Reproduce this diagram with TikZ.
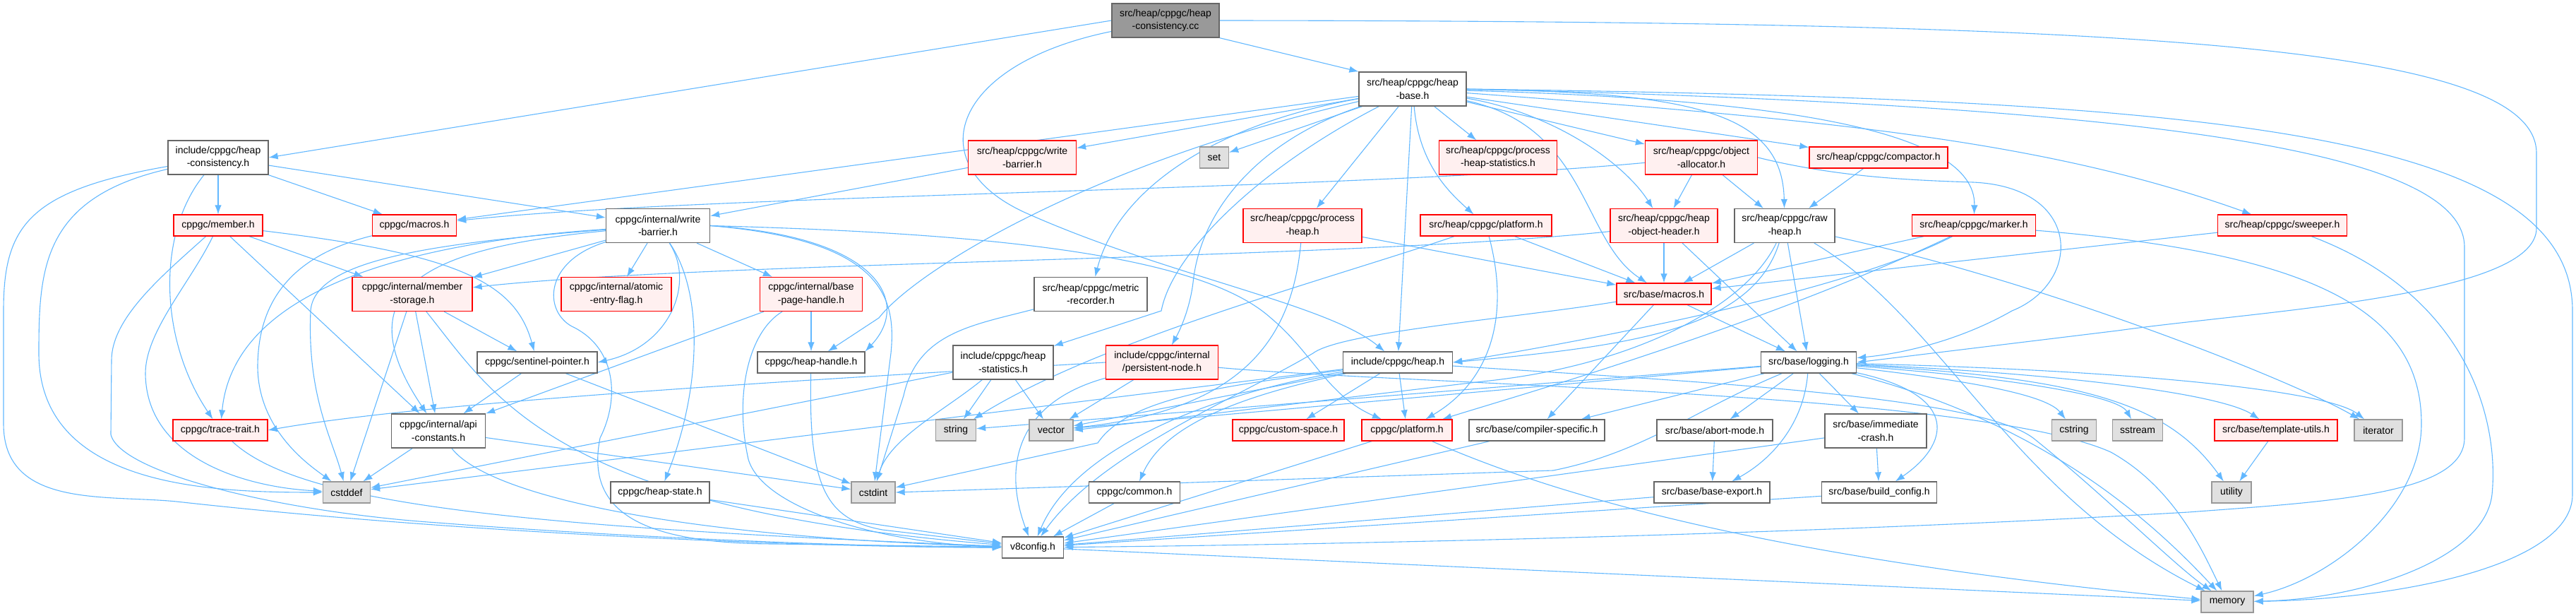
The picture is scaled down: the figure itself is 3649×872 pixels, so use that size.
\documentclass[tikz,border=0pt]{standalone}
\usepackage{fontspec}
\setmainfont{Liberation Sans}
\usetikzlibrary{arrows.meta,backgrounds}

\definecolor{incblue}{HTML}{63B8FF}
\definecolor{boxgray}{HTML}{666666}
\definecolor{sysgray}{HTML}{999999}
\definecolor{sysfill}{HTML}{E0E0E0}
\definecolor{truncfill}{HTML}{FFF0F0}
\definecolor{maingray}{HTML}{999999}

\tikzset{
  file/.style={draw=boxgray,fill=white,line width=1.3pt,align=center,
    font=\fontsize{14}{18.7}\selectfont,minimum height=30pt,inner sep=1pt},
  two/.style={minimum height=48pt},
  trunc/.style={file,draw=red,fill=truncfill},
  sys/.style={file,draw=sysgray,fill=sysfill},
  main/.style={file,fill=maingray},
  inc/.style={draw=incblue,line width=1.1pt,-{Latex[length=13pt,width=9.5pt]}}
}

\begin{document}
\begin{tikzpicture}[x=1pt,y=-1pt]
  \useasboundingbox (0,0) rectangle (3649,872);

  \node[main,two,minimum width=152pt] (root) at (1651,29) {src/heap/cppgc/heap\\-consistency.cc};
  \node[file,two,minimum width=152pt] (hbase) at (2001,126) {src/heap/cppgc/heap\\-base.h};

  \node[file,two,minimum width=142pt] (hcons) at (309,223) {include/cppgc/heap\\-consistency.h};
  \node[trunc,two,minimum width=153pt] (swb) at (1448,223) {src/heap/cppgc/write\\-barrier.h};
  \node[sys,minimum width=41pt] (set) at (1720,223) {set};
  \node[trunc,two,minimum width=167pt] (phs) at (2122,223) {src/heap/cppgc/process\\-heap-statistics.h};
  \node[trunc,two,minimum width=159pt] (oalloc) at (2410,223) {src/heap/cppgc/object\\-allocator.h};
  \node[trunc,minimum width=196pt] (compactor) at (2661,223) {src/heap/cppgc/compactor.h};

  \node[trunc,minimum width=126pt] (member) at (309,319) {cppgc/member.h};
  \node[trunc,minimum width=119pt] (cmacros) at (587,319) {cppgc/macros.h};
  \node[file,two,minimum width=147pt] (iwb) at (932,319.5) {cppgc/internal/write\\-barrier.h};
  \node[trunc,two,minimum width=168pt] (pheap) at (1845,319.5) {src/heap/cppgc/process\\-heap.h};
  \node[trunc,minimum width=186pt] (splatform) at (2105,319) {src/heap/cppgc/platform.h};
  \node[trunc,two,minimum width=152pt] (hoh) at (2357,319.5) {src/heap/cppgc/heap\\-object-header.h};
  \node[file,two,minimum width=142pt] (rawheap) at (2528,319.5) {src/heap/cppgc/raw\\-heap.h};
  \node[trunc,minimum width=175pt] (marker) at (2796,319) {src/heap/cppgc/marker.h};
  \node[trunc,minimum width=183pt] (sweeper) at (3233,319) {src/heap/cppgc/sweeper.h};

  \node[trunc,two,minimum width=170pt] (mstorage) at (584,416.5) {cppgc/internal/member\\-storage.h};
  \node[trunc,two,minimum width=156pt] (atomic) at (873,416.5) {cppgc/internal/atomic\\-entry-flag.h};
  \node[trunc,two,minimum width=145pt] (bph) at (1149,416.5) {cppgc/internal/base\\-page-handle.h};
  \node[file,two,minimum width=160pt] (metric) at (1545,416.5) {src/heap/cppgc/metric\\-recorder.h};
  \node[trunc,minimum width=134pt] (bmacros) at (2357,416) {src/base/macros.h};

  \node[file,minimum width=170pt] (sentinel) at (761,513) {cppgc/sentinel-pointer.h};
  \node[file,minimum width=152pt] (hhandle) at (1149,513) {cppgc/heap-handle.h};
  \node[file,two,minimum width=142pt] (hstats) at (1421,513) {include/cppgc/heap\\-statistics.h};
  \node[trunc,two,minimum width=159pt] (pnode) at (1646,513) {include/cppgc/internal\\/persistent-node.h};
  \node[file,minimum width=155pt] (heaph) at (1980,513) {include/cppgc/heap.h};
  \node[file,minimum width=135pt] (logging) at (2562,513) {src/base/logging.h};

  \node[trunc,minimum width=134pt] (trace) at (312,609) {cppgc/trace-trait.h};
  \node[file,two,minimum width=133pt] (apiconst) at (621,610) {cppgc/internal/api\\-constants.h};
  \node[sys,minimum width=57pt] (string) at (1354,609) {string};
  \node[sys,minimum width=62pt] (vector) at (1489,609) {vector};
  \node[trunc,minimum width=158pt] (cspace) at (1825,609) {cppgc/custom-space.h};
  \node[trunc,minimum width=128pt] (cplatform) at (1993,609) {cppgc/platform.h};
  \node[file,minimum width=192pt] (compspec) at (2177,609) {src/base/compiler-specific.h};
  \node[file,minimum width=164pt] (abort) at (2429,609) {src/base/abort-mode.h};
  \node[file,two,minimum width=144pt] (icrash) at (2657,610) {src/base/immediate\\-crash.h};
  \node[sys,minimum width=63pt] (cstring) at (2938,609) {cstring};
  \node[sys,minimum width=71pt] (sstream) at (3028,609) {sstream};
  \node[trunc,minimum width=174pt] (tutils) at (3224,609) {src/base/template-utils.h};
  \node[sys,minimum width=68pt] (iterator) at (3369,609) {iterator};

  \node[sys,minimum width=67pt] (cstddef) at (491,697) {cstddef};
  \node[file,minimum width=140pt] (hstate) at (935,697) {cppgc/heap-state.h};
  \node[sys,minimum width=62pt] (cstdint) at (1237,697) {cstdint};
  \node[file,minimum width=129pt] (common) at (1607,697) {cppgc/common.h};
  \node[file,minimum width=164pt] (bexport) at (2425,697) {src/base/base-export.h};
  \node[file,minimum width=163pt] (bconfig) at (2662,697) {src/base/build\_config.h};
  \node[sys,minimum width=56pt] (utility) at (3161,697) {utility};

  \node[file,minimum width=87pt] (v8config) at (1463,775) {v8config.h};
  \node[sys,minimum width=74pt] (memory) at (3155,852) {memory};

  \begin{scope}[on background layer]
  \draw[inc] (root.west) -- (hcons.east);
  \draw[inc] (root.south east) -- (hbase.north west);
  \draw[inc] (root) .. controls (1350,90) and (1300,230) .. (1450,300) .. controls (1650,390) and (1880,430) .. (heaph);
  \draw[inc] (root.east) .. controls (3000,30) and (3593,60) .. (3593,217) -- (3593,323) .. controls (3593,420) and (3200,440) .. (3000,468) -- (logging.east);

  \draw[inc] (hcons) -- (member);
  \draw[inc] (hcons) -- (cmacros);
  \draw[inc] (hcons) -- (iwb);
  \draw[inc] (hcons) .. controls (222,330) and (225,480) .. (trace);
  \draw[inc] (hcons) .. controls (60,280) and (55,380) .. (55,500) .. controls (55,690) and (300,697) .. (cstddef);
  \draw[inc] (hcons) .. controls (40,270) and (5,320) .. (5,440) -- (5,600) .. controls (5,720) and (150,700) .. (250,710) .. controls (700,760) and (1200,775) .. (v8config);

  \draw[inc] (member) -- (mstorage);
  \draw[inc] (member) -- (apiconst);
  \draw[inc] (member) .. controls (650,360) and (730,400) .. (sentinel);
  \draw[inc] (member) .. controls (270,400) and (205,470) .. (206,530) .. controls (208,650) and (350,690) .. (cstddef);
  \draw[inc] (member) .. controls (230,390) and (158,450) .. (158,510) -- (157,615) .. controls (170,670) and (400,725) .. (620,740) .. controls (900,762) and (1250,775) .. (v8config);
  \draw[inc] (cmacros) .. controls (420,360) and (365,420) .. (365,520) .. controls (366,610) and (440,660) .. (cstddef);

  \draw[inc] (iwb) -- (mstorage);
  \draw[inc] (iwb) -- (atomic);
  \draw[inc] (iwb) -- (bph);
  \draw[inc] (iwb) .. controls (550,345) and (330,420) .. (trace);
  \draw[inc] (iwb) .. controls (600,345) and (445,370) .. (440,440) .. controls (435,560) and (470,620) .. (cstddef);
  \draw[inc] (iwb) .. controls (620,350) and (480,400) .. (apiconst);
  \draw[inc] (iwb) .. controls (985,400) and (950,490) .. (sentinel.east);
  \draw[inc] (iwb) .. controls (1000,420) and (990,560) .. (hstate);
  \draw[inc] (iwb.east) .. controls (1250,335) and (1290,430) .. (hhandle.north east);
  \draw[inc] (iwb.east) .. controls (1250,340) and (1270,420) .. (1262,500) -- (cstdint);
  \draw[inc] (iwb.east) .. controls (1400,330) and (1700,360) .. (1800,450) .. controls (1860,500) and (1880,560) .. (cplatform);
  \draw[inc] (iwb) .. controls (770,370) and (770,440) .. (810,462) .. controls (870,490) and (880,560) .. (850,620) .. controls (830,720) and (900,770) .. (1100,770) -- (v8config);

  \draw[inc] (mstorage) -- (cstddef);
  \draw[inc] (mstorage) -- (apiconst);
  \draw[inc] (mstorage) -- (sentinel);
  \draw[inc] (mstorage) .. controls (700,560) and (780,720) .. (v8config);

  \draw[inc] (bph) -- (hhandle);
  \draw[inc] (bph) -- (apiconst);
  \draw[inc] (bph) .. controls (1060,470) and (1040,560) .. (1060,650) .. controls (1080,720) and (1250,770) .. (v8config);

  \draw[inc] (sentinel) -- (apiconst);
  \draw[inc] (sentinel) -- (cstdint);
  \draw[inc] (hhandle) .. controls (1145,690) and (1170,735) .. (1250,750) -- (v8config);
  \draw[inc] (trace) .. controls (420,710) and (700,745) .. (v8config);
  \draw[inc] (apiconst) -- (cstddef);
  \draw[inc] (apiconst) -- (cstdint);
  \draw[inc] (apiconst) .. controls (690,700) and (950,760) .. (v8config);
  \draw[inc] (hstate) -- (v8config);
  \draw[inc] (common) -- (v8config);
  \draw[inc] (cplatform) -- (v8config);
  \draw[inc] (cplatform) .. controls (2200,700) and (2500,790) .. (memory);
  \draw[inc] (compspec) -- (v8config);
  \draw[inc] (abort) -- (bexport);
  \draw[inc] (icrash) -- (bconfig);
  \draw[inc] (icrash) -- (v8config);
  \draw[inc] (bexport) -- (v8config);
  \draw[inc] (bconfig) -- (v8config);
  \draw[inc] (tutils) -- (utility);
  \draw[inc] (v8config) -- (memory);

  \draw[inc] (heaph) -- (cspace);
  \draw[inc] (heaph) -- (cplatform);
  \draw[inc] (heaph) -- (vector);
  \draw[inc] (heaph) -- (cstddef);
  \draw[inc] (heaph) .. controls (2400,540) and (2800,560) .. (2880,620) .. controls (2980,700) and (3080,800) .. (memory);
  \draw[inc] (heaph) .. controls (1760,560) and (1650,600) .. (common);
  \draw[inc] (heaph) .. controls (1700,560) and (1520,640) .. (v8config);
  \draw[inc] (heaph) .. controls (1750,545) and (1600,560) .. (1555,627) -- (cstdint);

  \draw[inc] (hstats) -- (string);
  \draw[inc] (hstats) -- (vector);
  \draw[inc] (hstats) -- (cstddef);
  \draw[inc] (hstats) .. controls (1340,580) and (1260,620) .. (cstdint);

  \draw[inc] (pnode) -- (vector);
  \draw[inc] (pnode.west) .. controls (1100,540) and (600,570) .. (trace.east);
  \draw[inc] (pnode) .. controls (2000,545) and (2800,555) .. (2990,640) .. controls (3080,690) and (3120,780) .. (memory);
  \draw[inc] (pnode) .. controls (1440,570) and (1420,660) .. (v8config);
  \draw[inc] (metric) .. controls (1380,460) and (1300,470) .. (1280,560) -- (cstdint);

  \draw[inc] (hbase) -- (set);
  \draw[inc] (hbase) -- (swb);
  \draw[inc] (hbase) -- (cmacros);
  \draw[inc] (hbase) -- (pheap);
  \draw[inc] (hbase) -- (phs);
  \draw[inc] (hbase) -- (oalloc);
  \draw[inc] (hbase) -- (compactor);
  \draw[inc] (hbase) -- (heaph);
  \draw[inc] (hbase) .. controls (2600,170) and (2900,200) .. (sweeper);
  \draw[inc] (hbase) .. controls (1700,180) and (1580,280) .. (metric);
  \draw[inc] (hbase) .. controls (1550,230) and (1300,380) .. (1245,450) -- (hhandle);
  \draw[inc] (hbase) .. controls (1780,240) and (1660,360) .. (1645,440) -- (hstats);
  \draw[inc] (hbase) .. controls (1780,200) and (1700,300) .. (1690,400) .. controls (1685,440) and (1670,470) .. (pnode);
  \draw[inc] (hbase) .. controls (2010,230) and (2050,270) .. (splatform);
  \draw[inc] (hbase) .. controls (2200,160) and (2300,230) .. (hoh);
  \draw[inc] (hbase) .. controls (2250,180) and (2240,340) .. (bmacros);
  \draw[inc] (hbase) .. controls (2400,130) and (2525,160) .. (rawheap);
  \draw[inc] (hbase) .. controls (2500,140) and (2800,180) .. (marker);
  \draw[inc] (hbase.east) .. controls (3100,140) and (3644,180) .. (3644,440) -- (3644,700) .. controls (3644,800) and (3400,848) .. (memory);
  \draw[inc] (hbase.east) .. controls (3100,150) and (3491,220) .. (3491,350) -- (3491,620) .. controls (3491,700) and (3300,710) .. (3100,725) .. controls (2500,760) and (1800,772) .. (v8config);

  \draw[inc] (swb) -- (iwb);
  \draw[inc] (pheap) -- (bmacros);
  \draw[inc] (pheap) .. controls (1830,480) and (1760,580) .. (vector);
  \draw[inc] (splatform) -- (bmacros);
  \draw[inc] (splatform) .. controls (2140,450) and (2110,540) .. (cplatform);
  \draw[inc] (splatform) .. controls (1900,390) and (1560,480) .. (string);
  \draw[inc] (hoh) .. controls (1900,368) and (1000,370) .. (mstorage);
  \draw[inc] (hoh) -- (bmacros);
  \draw[inc] (hoh) -- (logging);
  \draw[inc] (oalloc) .. controls (1900,270) and (1000,275) .. (cmacros);
  \draw[inc] (oalloc) -- (hoh);
  \draw[inc] (oalloc) -- (rawheap);
  \draw[inc] (oalloc.east) .. controls (2600,250) and (2700,255) .. (2795,258) .. controls (2950,265) and (2950,400) .. (2850,440) .. controls (2780,480) and (2700,500) .. (logging);
  \draw[inc] (compactor) -- (rawheap);

  \draw[inc] (rawheap) .. controls (2480,470) and (2300,490) .. (heaph.east);
  \draw[inc] (rawheap) .. controls (2470,440) and (2300,520) .. (2100,540) -- (vector.east);
  \draw[inc] (rawheap) -- (logging);
  \draw[inc] (rawheap) -- (bmacros);
  \draw[inc] (rawheap) .. controls (2900,400) and (3250,540) .. (iterator);
  \draw[inc] (rawheap) .. controls (2750,450) and (2850,700) .. (memory);

  \draw[inc] (marker) -- (bmacros);
  \draw[inc] (marker) .. controls (2600,420) and (2200,490) .. (heaph.east);
  \draw[inc] (marker) .. controls (2500,460) and (2150,560) .. (cplatform);
  \draw[inc] (marker) .. controls (3300,360) and (3430,450) .. (3430,600) .. controls (3430,720) and (3300,820) .. (memory);
  \draw[inc] (sweeper) -- (bmacros);
  \draw[inc] (sweeper) .. controls (3500,420) and (3540,600) .. (3530,700) .. controls (3520,790) and (3350,848) .. (memory);

  \draw[inc] (bmacros) -- (compspec);
  \draw[inc] (bmacros) -- (logging);
  \draw[inc] (bmacros) .. controls (2150,450) and (1900,470) .. (1860,500) .. controls (1760,560) and (1560,640) .. (v8config);

  \draw[inc] (logging) -- (string);
  \draw[inc] (logging) -- (vector);
  \draw[inc] (logging) .. controls (2400,580) and (2330,640) .. (2200,666) -- (cstdint.east);
  \draw[inc] (logging) -- (compspec);
  \draw[inc] (logging) -- (abort);
  \draw[inc] (logging) -- (icrash);
  \draw[inc] (logging) .. controls (2555,600) and (2510,650) .. (bexport);
  \draw[inc] (logging) .. controls (2780,560) and (2760,630) .. (bconfig);
  \draw[inc] (logging) .. controls (2800,540) and (2900,560) .. (cstring);
  \draw[inc] (logging) .. controls (2850,535) and (3000,560) .. (sstream);
  \draw[inc] (logging) .. controls (2950,530) and (3150,560) .. (tutils);
  \draw[inc] (logging) .. controls (3050,525) and (3300,555) .. (iterator);
  \draw[inc] (logging) .. controls (2950,535) and (3070,570) .. (utility);
  \draw[inc] (logging) .. controls (2900,600) and (3050,740) .. (memory);
  \end{scope}
\end{tikzpicture}
\end{document}
